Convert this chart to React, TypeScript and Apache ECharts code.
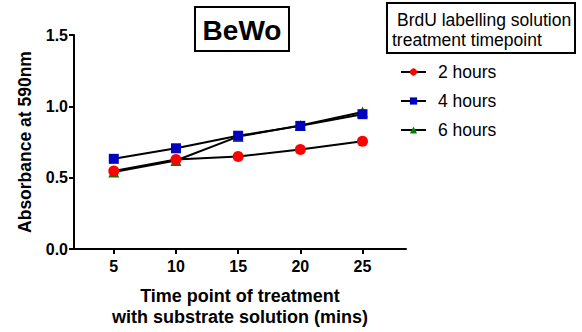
import React, { useEffect, useRef } from "react";
import * as echarts from "echarts";

const timePoints = [5, 10, 15, 20, 25];
const seriesNames = ["2 hours", "4 hours", "6 hours"];
const hours2 = [0.547, 0.627, 0.648, 0.697, 0.755];
const hours4 = [0.632, 0.706, 0.794, 0.863, 0.945];
const hours6 = [0.54, 0.62, 0.788, 0.865, 0.96];
const yTicks = [0, 0.5, 1.0, 1.5];
const xTicks = [5, 10, 15, 20, 25];

const FONT = "'Liberation Sans', Arial, sans-serif";

const pairs = (vals: number[]) => timePoints.map((t, i) => [t, vals[i]]);

export default function App() {
  const ref = useRef<HTMLDivElement>(null);
  useEffect(() => {
    if (!ref.current) return;
    const chart = echarts.init(ref.current, undefined, { renderer: "svg" });
    const lineStyle = { color: "#000", width: 2 };
    chart.setOption({
      animation: false,
      backgroundColor: "#fff",
      grid: { left: 74, top: 35, width: 332, height: 216, containLabel: false },
      xAxis: {
        type: "value",
        min: 1.8,
        max: 28.5,
        axisLine: { show: true, lineStyle: { color: "#000", width: 2 } },
        axisTick: { show: true, length: 5, lineStyle: { color: "#000", width: 2 }, customValues: xTicks },
        axisLabel: {
          customValues: xTicks,
          color: "#000",
          fontFamily: FONT,
          fontWeight: "bold",
          fontSize: 16,
          margin: 9,
        },
        splitLine: { show: false },
        name: "Time point of treatment\nwith substrate solution (mins)",
        nameLocation: "middle",
        nameGap: 36,
        nameTextStyle: {
          color: "#000",
          fontFamily: FONT,
          fontWeight: "bold",
          fontSize: 18,
          lineHeight: 21,
          verticalAlign: "top",
        },
      },
      yAxis: {
        type: "value",
        min: 0,
        max: 1.5,
        axisLine: { show: true, lineStyle: { color: "#000", width: 2 } },
        axisTick: { show: true, length: 5, lineStyle: { color: "#000", width: 2 }, customValues: yTicks },
        axisLabel: {
          customValues: yTicks,
          formatter: (v: number) => v.toFixed(1),
          color: "#000",
          fontFamily: FONT,
          fontWeight: "bold",
          fontSize: 16,
          margin: 6,
        },
        splitLine: { show: false },
        name: "Absorbance at 590nm",
        nameLocation: "middle",
        nameGap: 40,
        nameTextStyle: {
          color: "#000",
          fontFamily: FONT,
          fontWeight: "bold",
          fontSize: 17.5,
        },
      },
      legend: {
        data: seriesNames,
        orient: "vertical",
        left: 400,
        top: 63,
        padding: 0,
        itemWidth: 25,
        itemHeight: 9,
        itemGap: 11,
        textStyle: {
          color: "#000",
          fontFamily: FONT,
          fontSize: 17.5,
          padding: [0, 0, 0, 7],
        },
      },
      graphic: [
        {
          type: "rect",
          shape: { x: 195, y: 7, width: 94, height: 44 },
          style: { fill: "#fff", stroke: "#000", lineWidth: 2 },
        },
        {
          type: "text",
          x: 242,
          y: 30,
          style: {
            text: "BeWo",
            fill: "#000",
            font: `bold 28px ${FONT}`,
            align: "center",
            verticalAlign: "middle",
          },
        },
        {
          type: "rect",
          shape: { x: 387, y: 3, width: 188, height: 50 },
          style: { fill: "#fff", stroke: "#000", lineWidth: 2 },
        },
        {
          type: "text",
          x: 397,
          y: 20,
          style: {
            text: "BrdU labelling solution",
            fill: "#000",
            font: `17.5px ${FONT}`,
            align: "left",
            verticalAlign: "middle",
          },
        },
        {
          type: "text",
          x: 392,
          y: 40,
          style: {
            text: "treatment timepoint",
            fill: "#000",
            font: `17.5px ${FONT}`,
            align: "left",
            verticalAlign: "middle",
          },
        },
      ],
      series: [
        {
          name: "6 hours",
          type: "line",
          data: pairs(hours6),
          symbol: "triangle",
          symbolSize: 11,
          itemStyle: { color: "#008000" },
          lineStyle,
          z: 2,
        },
        {
          name: "4 hours",
          type: "line",
          data: pairs(hours4),
          symbol: "rect",
          symbolSize: 10,
          itemStyle: { color: "#0000c0" },
          lineStyle,
          z: 3,
        },
        {
          name: "2 hours",
          type: "line",
          data: pairs(hours2),
          symbol: "circle",
          symbolSize: 11,
          itemStyle: { color: "#ff0000" },
          lineStyle,
          z: 4,
        },
      ],
    });
    return () => chart.dispose();
  }, []);
  return <div ref={ref} style={{ width: 582, height: 332, position: "absolute", left: 0, top: 0 }} />;
}
